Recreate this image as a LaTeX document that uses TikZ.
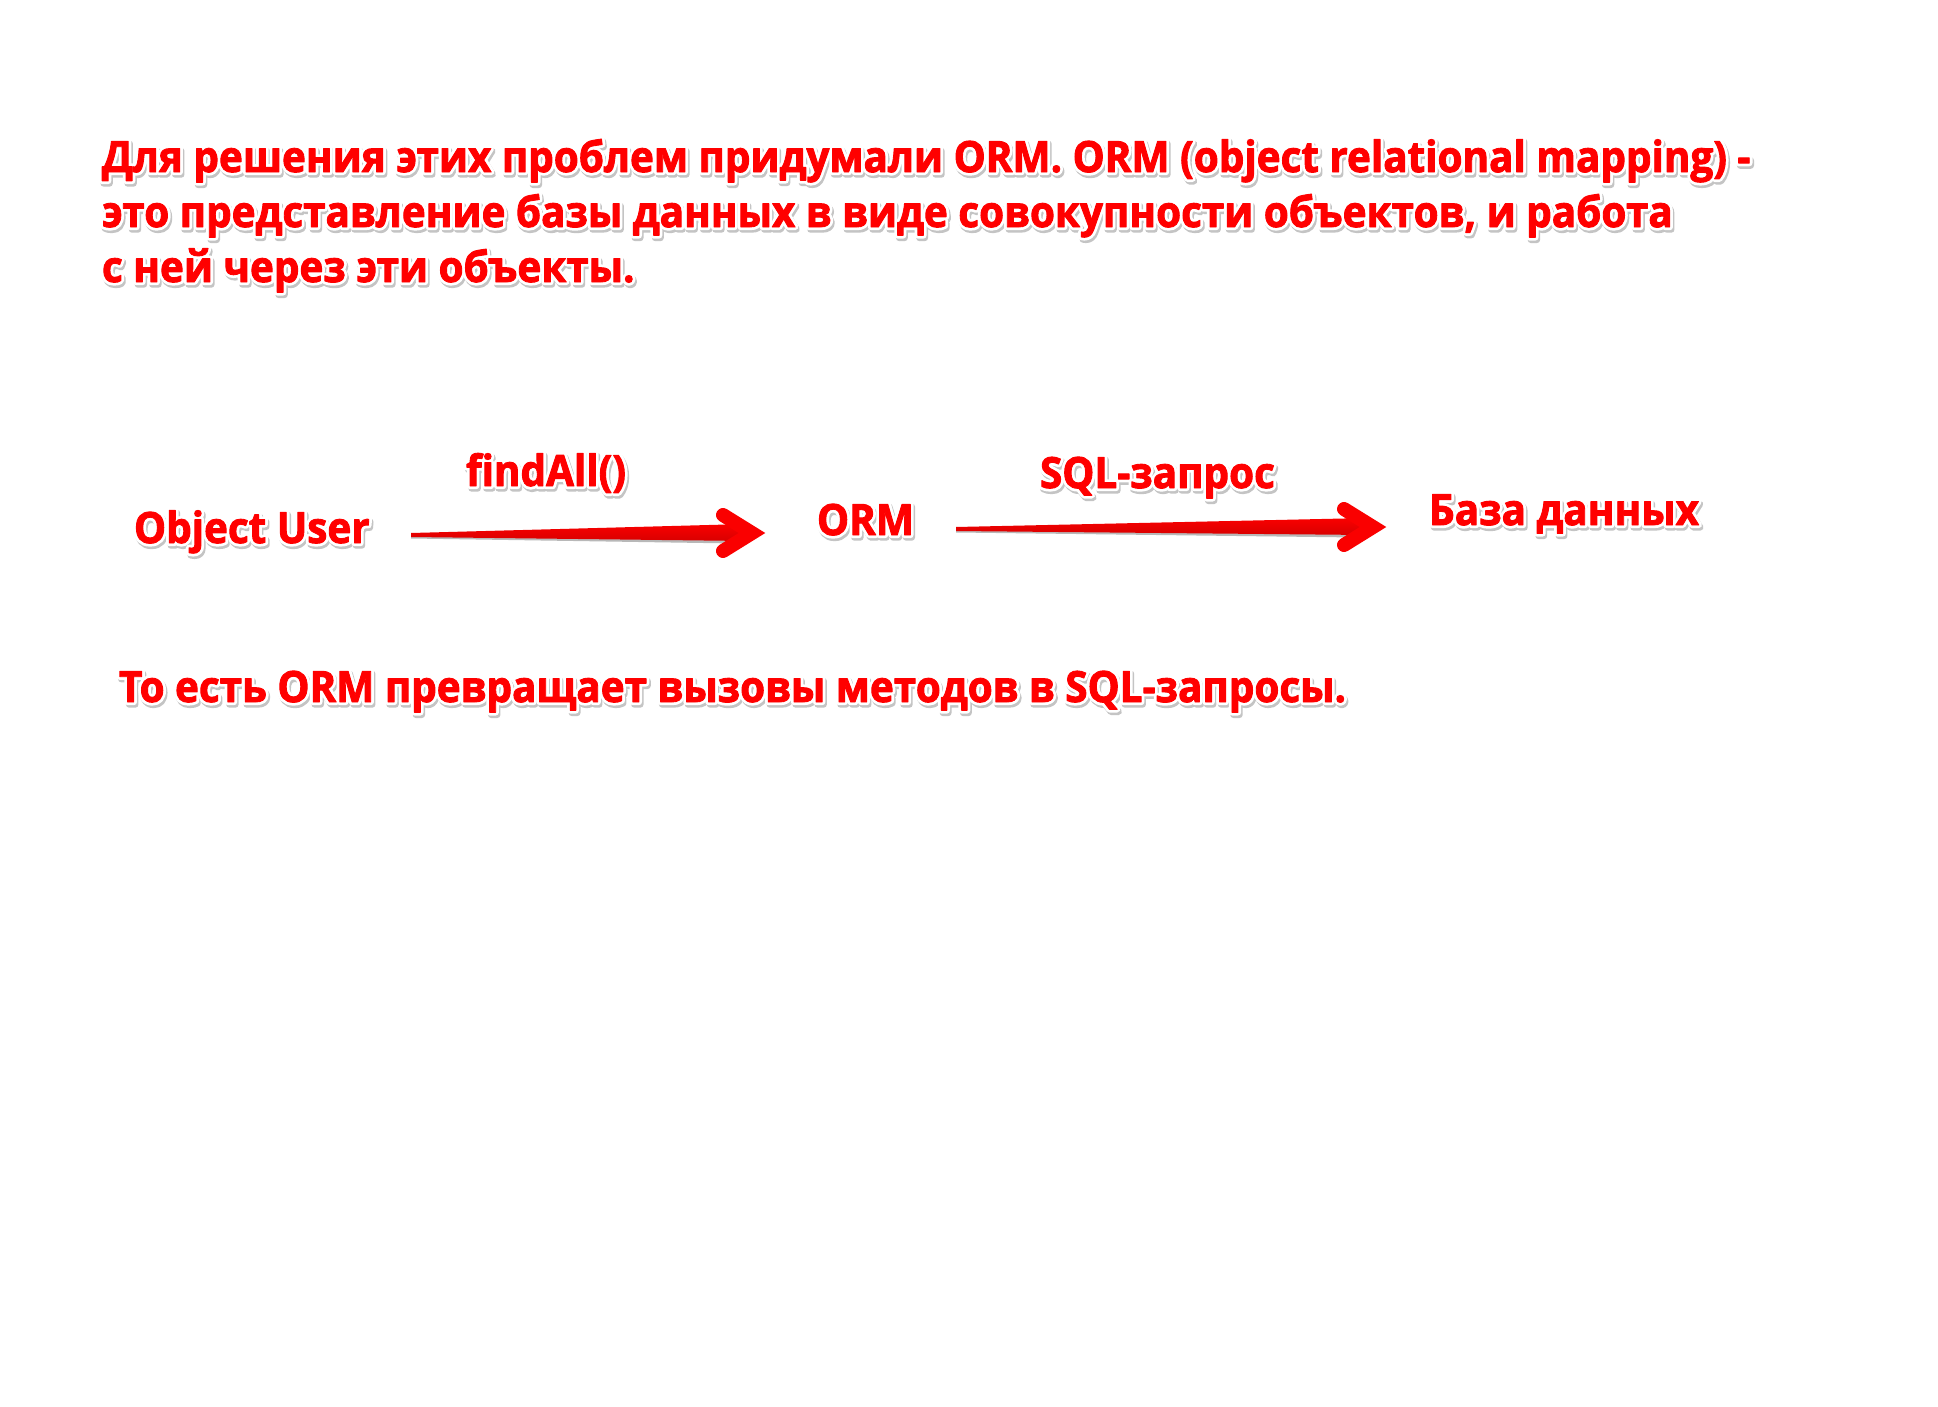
\documentclass[tikz,border=0pt]{standalone}
\usepackage{fontspec}
\setmainfont{Open Sans}[FakeStretch=0.94]
\usepackage{xcolor}
\usetikzlibrary{calc}
\definecolor{txtred}{HTML}{FF0000}
\definecolor{arrred}{HTML}{FA0000}
\definecolor{arrdark}{HTML}{D80000}
\definecolor{shgray}{HTML}{C4C4C4}
\newcommand\halo[3]{\special{pdf:literal direct 2 Tr #1 w 1 j}\textcolor{#2}{#3}\special{pdf:literal direct 0 Tr 1 w 0 j}}
\newcommand\fx[1]{\leavevmode\rlap{\kern1.5pt\raisebox{-2.5pt}{\halo{6.4}{shgray}{#1}}}\rlap{\halo{6.4}{white}{#1}}\halo{0.9}{txtred}{#1}}
\begin{document}
\begin{tikzpicture}[x=1pt,y=-1pt,
  lbl/.style={inner sep=0pt,outer sep=0pt,text=txtred,font=\fontsize{43}{55}\selectfont\bfseries,anchor=base west},
  para/.style={lbl,align=left,anchor=north west},
  shaft/.style={top color=arrred,bottom color=arrdark,draw=none},
  headline/.style={draw=arrred,line width=14pt,line cap=round,line join=miter,miter limit=10},
]
\useasboundingbox (0,0) rectangle (1938,1407);
\fill[white] (0,0) rectangle (1938,1407);

\node[para] (intro) at (102,139) {\fx{Для решения этих проблем придумали ORM. ORM (object relational mapping) -}\\
\fx{это представление базы данных в виде совокупности объектов, и работа}\\
\fx{с ней через эти объекты.}};

\node[lbl] (user) at (134,543) {\fx{Object User}};
\node[lbl] (find) at (466,486) {\fx{findAll()}};
\node[lbl] (orm) at (817,535) {\fx{ORM}};
\node[lbl] (sql) at (1040,488) {\fx{SQL-запрос}};
\node[lbl] (db) at (1429,525) {\fx{База данных}};
\node[lbl] (summary) at (119,702) {\fx{То есть ORM превращает вызовы методов в SQL-запросы.}};

\coordinate (a1s) at (411,535);
\coordinate (a1e) at (766,533);
\coordinate (a2s) at (956,529);
\coordinate (a2e) at (1387,527);

\foreach \s/\e in {a1s/a1e,a2s/a2e}{
  \fill[black!28] ($(\s)+(0,1)$) -- ($(\e)+(-30,-8)+(0,2)$) -- ($(\e)+(-30,8)+(0,2.5)$) -- ($(\s)+(0,3.5)$) -- cycle;
  \path[shaft] ($(\s)+(0,-2)$) -- ($(\e)+(-20,-9)$) -- ($(\e)+(-20,8)$) -- ($(\s)+(0,2)$) -- cycle;
  \draw[headline] ($(\e)+(-43,-18)$) -- ($(\e)+(-14,0)$) -- ($(\e)+(-43,18)$);
}
\end{tikzpicture}
\end{document}
